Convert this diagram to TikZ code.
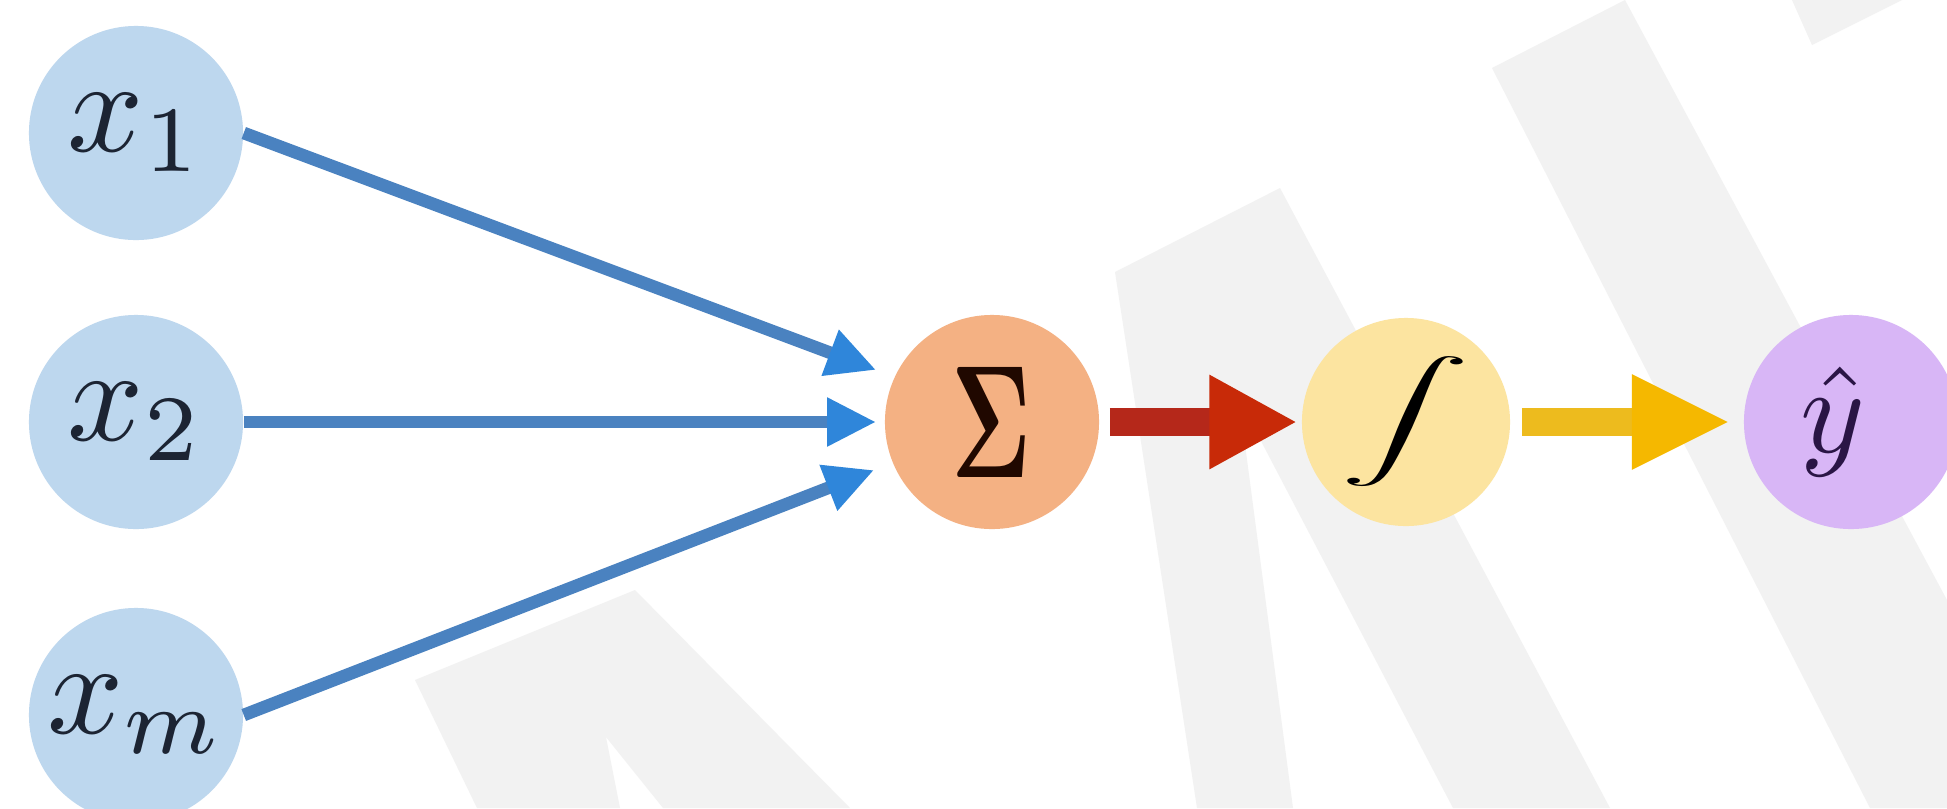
\documentclass[tikz,border=0pt]{standalone}
\usepackage{graphicx}
\usetikzlibrary{arrows.meta,calc}
\definecolor{inblue}{HTML}{BDD7EE}
\definecolor{sumor}{HTML}{F4B183}
\definecolor{actyel}{HTML}{FCE4A0}
\definecolor{outpur}{HTML}{D8B6F6}
\definecolor{lineblue}{HTML}{4A82C0}
\definecolor{headblue}{HTML}{2F86DA}
\definecolor{redarr}{HTML}{B5281A}
\definecolor{redhead}{HTML}{C82A08}
\definecolor{yelarr}{HTML}{EDBB1E}
\definecolor{yelhead}{HTML}{F5B800}
\definecolor{wmgray}{HTML}{F2F2F2}
\definecolor{inktext}{HTML}{1C2433}
\definecolor{sumtext}{HTML}{200800}
\definecolor{outtext}{HTML}{2A1545}
\begin{document}
\begin{tikzpicture}[x=0.01cm,y=-0.01cm,
  neuron/.style={circle,inner sep=0pt,minimum size=2.14cm,draw=none},
  wm/.style={fill=wmgray,draw=none},
  bluearrow/.style={draw=lineblue,line width=3.6pt,-{Triangle[length=14pt,width=13pt,color=headblue]}},
  redarrow/.style={draw=redarr,line width=8pt,-{Triangle[length=25pt,width=25pt,color=redhead]}},
  yelarrow/.style={draw=yelarr,line width=8pt,-{Triangle[length=28pt,width=25pt,color=yelhead]}}
]
\useasboundingbox (0,0) rectangle (1947,808);
\clip (0,0) rectangle (1947,808);
\fill[white] (0,0) rectangle (1947,808);
% watermark
\fill[wm] (1115,272) -- (1280,188) -- (1610,808) -- (1453,808) -- (1239,399) -- (1293,808) -- (1197,808) -- cycle;
\fill[wm] (1492,68) -- (1625,0) -- (1947,600) -- (1947,808) -- (1870,808) -- cycle;
\fill[wm] (1792,0) -- (1902,0) -- (1812,45) -- cycle;
\fill[wm] (415,680) -- (635,590) -- (850,808) -- (663,808) -- (606,737) -- (620,808) -- (477,808) -- cycle;
% nodes
\node[neuron,fill=inblue,text=inktext] (x1) at (136,133) {\scalebox{3.8}{$x_1$}};
\node[neuron,fill=inblue,text=inktext] (x2) at (136,422) {\scalebox{3.8}{$x_2$}};
\node[neuron,fill=inblue,text=inktext] (xm) at (136,715) {\scalebox{3.8}{$x_m$}};
\node[neuron,fill=sumor,text=sumtext] (sig) at (992,422) {\resizebox{0.8cm}{1.1cm}{$\mathbf{\Sigma}$}};
\node[neuron,fill=actyel,minimum size=2.08cm] (act) at (1406,422) {\resizebox*{1.3cm}{1.3cm}{$\displaystyle\int$}};
\node[neuron,fill=outpur,text=outtext] (yhat) at (1851,422) {\scalebox{3.5}{$\hat{y}$}\kern0.36cm};
% connectors
\draw[bluearrow] (x1.east) -- ($(sig.west)+(-8,-52)$);
\draw[bluearrow] (x2.east) -- ($(sig.west)+(-8,0)$);
\draw[bluearrow] (xm.east) -- ($(sig.west)+(-10,48)$);
\draw[redarrow] ($(sig.east)+(10,0)$) -- ($(act.west)+(-4,0)$);
\draw[yelarrow] ($(act.east)+(11,0)$) -- ($(yhat.west)+(-13,0)$);
\end{tikzpicture}
\end{document}
